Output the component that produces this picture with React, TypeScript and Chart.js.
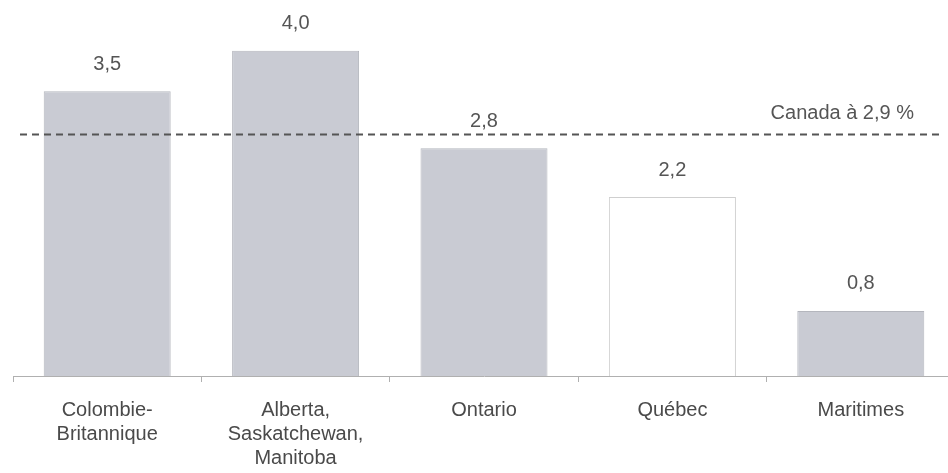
import React, { useEffect, useRef } from "react";
import { Chart, registerables } from "chart.js";

Chart.register(...registerables);

const categories: string[][] = [
  ["Colombie-", "Britannique"],
  ["Alberta,", "Saskatchewan,", "Manitoba"],
  ["Ontario"],
  ["Québec"],
  ["Maritimes"],
];
const values: number[] = [3.5, 4.0, 2.8, 2.2, 0.8];
const valueLabels: string[] = ["3,5", "4,0", "2,8", "2,2", "0,8"];
const canadaValue: number = 2.97;
const canadaLabel: string = "Canada à 2,9 %";

const FONT = "'Liberation Sans', Arial, sans-serif";
const TEXT = "#555555";

export default function App() {
  const ref = useRef<HTMLCanvasElement | null>(null);

  useEffect(() => {
    document.body.style.margin = "0";
    const canvas = ref.current;
    if (!canvas) return;

    const overlay = {
      id: "overlay",
      afterDatasetsDraw(chart: any) {
        const ctx = chart.ctx;
        const y = chart.scales.y;
        const meta = chart.getDatasetMeta(0);
        ctx.save();
        ctx.font = `20px ${FONT}`;
        ctx.fillStyle = TEXT;
        ctx.textAlign = "center";
        ctx.textBaseline = "middle";
        meta.data.forEach((bar: any, i: number) => {
          ctx.fillText(valueLabels[i], bar.x, bar.y - 27);
        });
        const ly = Math.round(y.getPixelForValue(canadaValue)) + 0.5;
        ctx.strokeStyle = "#555555";
        ctx.lineWidth = 2;
        ctx.setLineDash([7, 5]);
        ctx.beginPath();
        ctx.moveTo(20, ly);
        ctx.lineTo(940, ly);
        ctx.stroke();
        ctx.setLineDash([]);
        ctx.textAlign = "right";
        ctx.fillText(canadaLabel, 914, ly - 21);
        ctx.restore();
      },
    };

    const chart = new Chart(canvas, {
      type: "bar",
      data: {
        labels: categories,
        datasets: [
          {
            data: values,
            backgroundColor: ["#c9cbd3", "#c9cbd3", "#c9cbd3", "#ffffff", "#c9cbd3"],
            borderColor: ["#b4b6bd", "#b4b6bd", "#b4b6bd", "#cfcfcf", "#b4b6bd"],
            borderWidth: 1,
            categoryPercentage: 1,
            barPercentage: 0.674,
          },
        ],
      },
      options: {
        animation: false,
        responsive: false,
        maintainAspectRatio: false,
        events: [],
        layout: { padding: { top: 10, left: 13, right: 5, bottom: 0 } },
        plugins: {
          legend: { display: false },
          tooltip: { enabled: false },
          title: { display: false },
        },
        scales: {
          y: {
            display: false,
            min: 0,
            max: 4.5,
          },
          x: {
            afterFit: (s: any) => {
              s.height = 97;
            },
            border: { display: true, color: "#b0b0b0", width: 1 },
            grid: {
              display: true,
              drawOnChartArea: false,
              drawTicks: true,
              tickLength: 6,
              color: "#b0b0b0",
              offset: true,
            },
            ticks: {
              color: "#4a4a4a",
              font: { family: FONT, size: 20, lineHeight: 1.2 },
              padding: 16,
              maxRotation: 0,
              autoSkip: false,
            },
          },
        },
      },
      plugins: [overlay],
    });
    return () => chart.destroy();
  }, []);

  return (
    <div style={{ width: 948, height: 473, overflow: "hidden", position: "relative", background: "#fff" }}>
      <canvas ref={ref} width={960} height={473} style={{ display: "block", width: 960, height: 473 }} />
    </div>
  );
}
